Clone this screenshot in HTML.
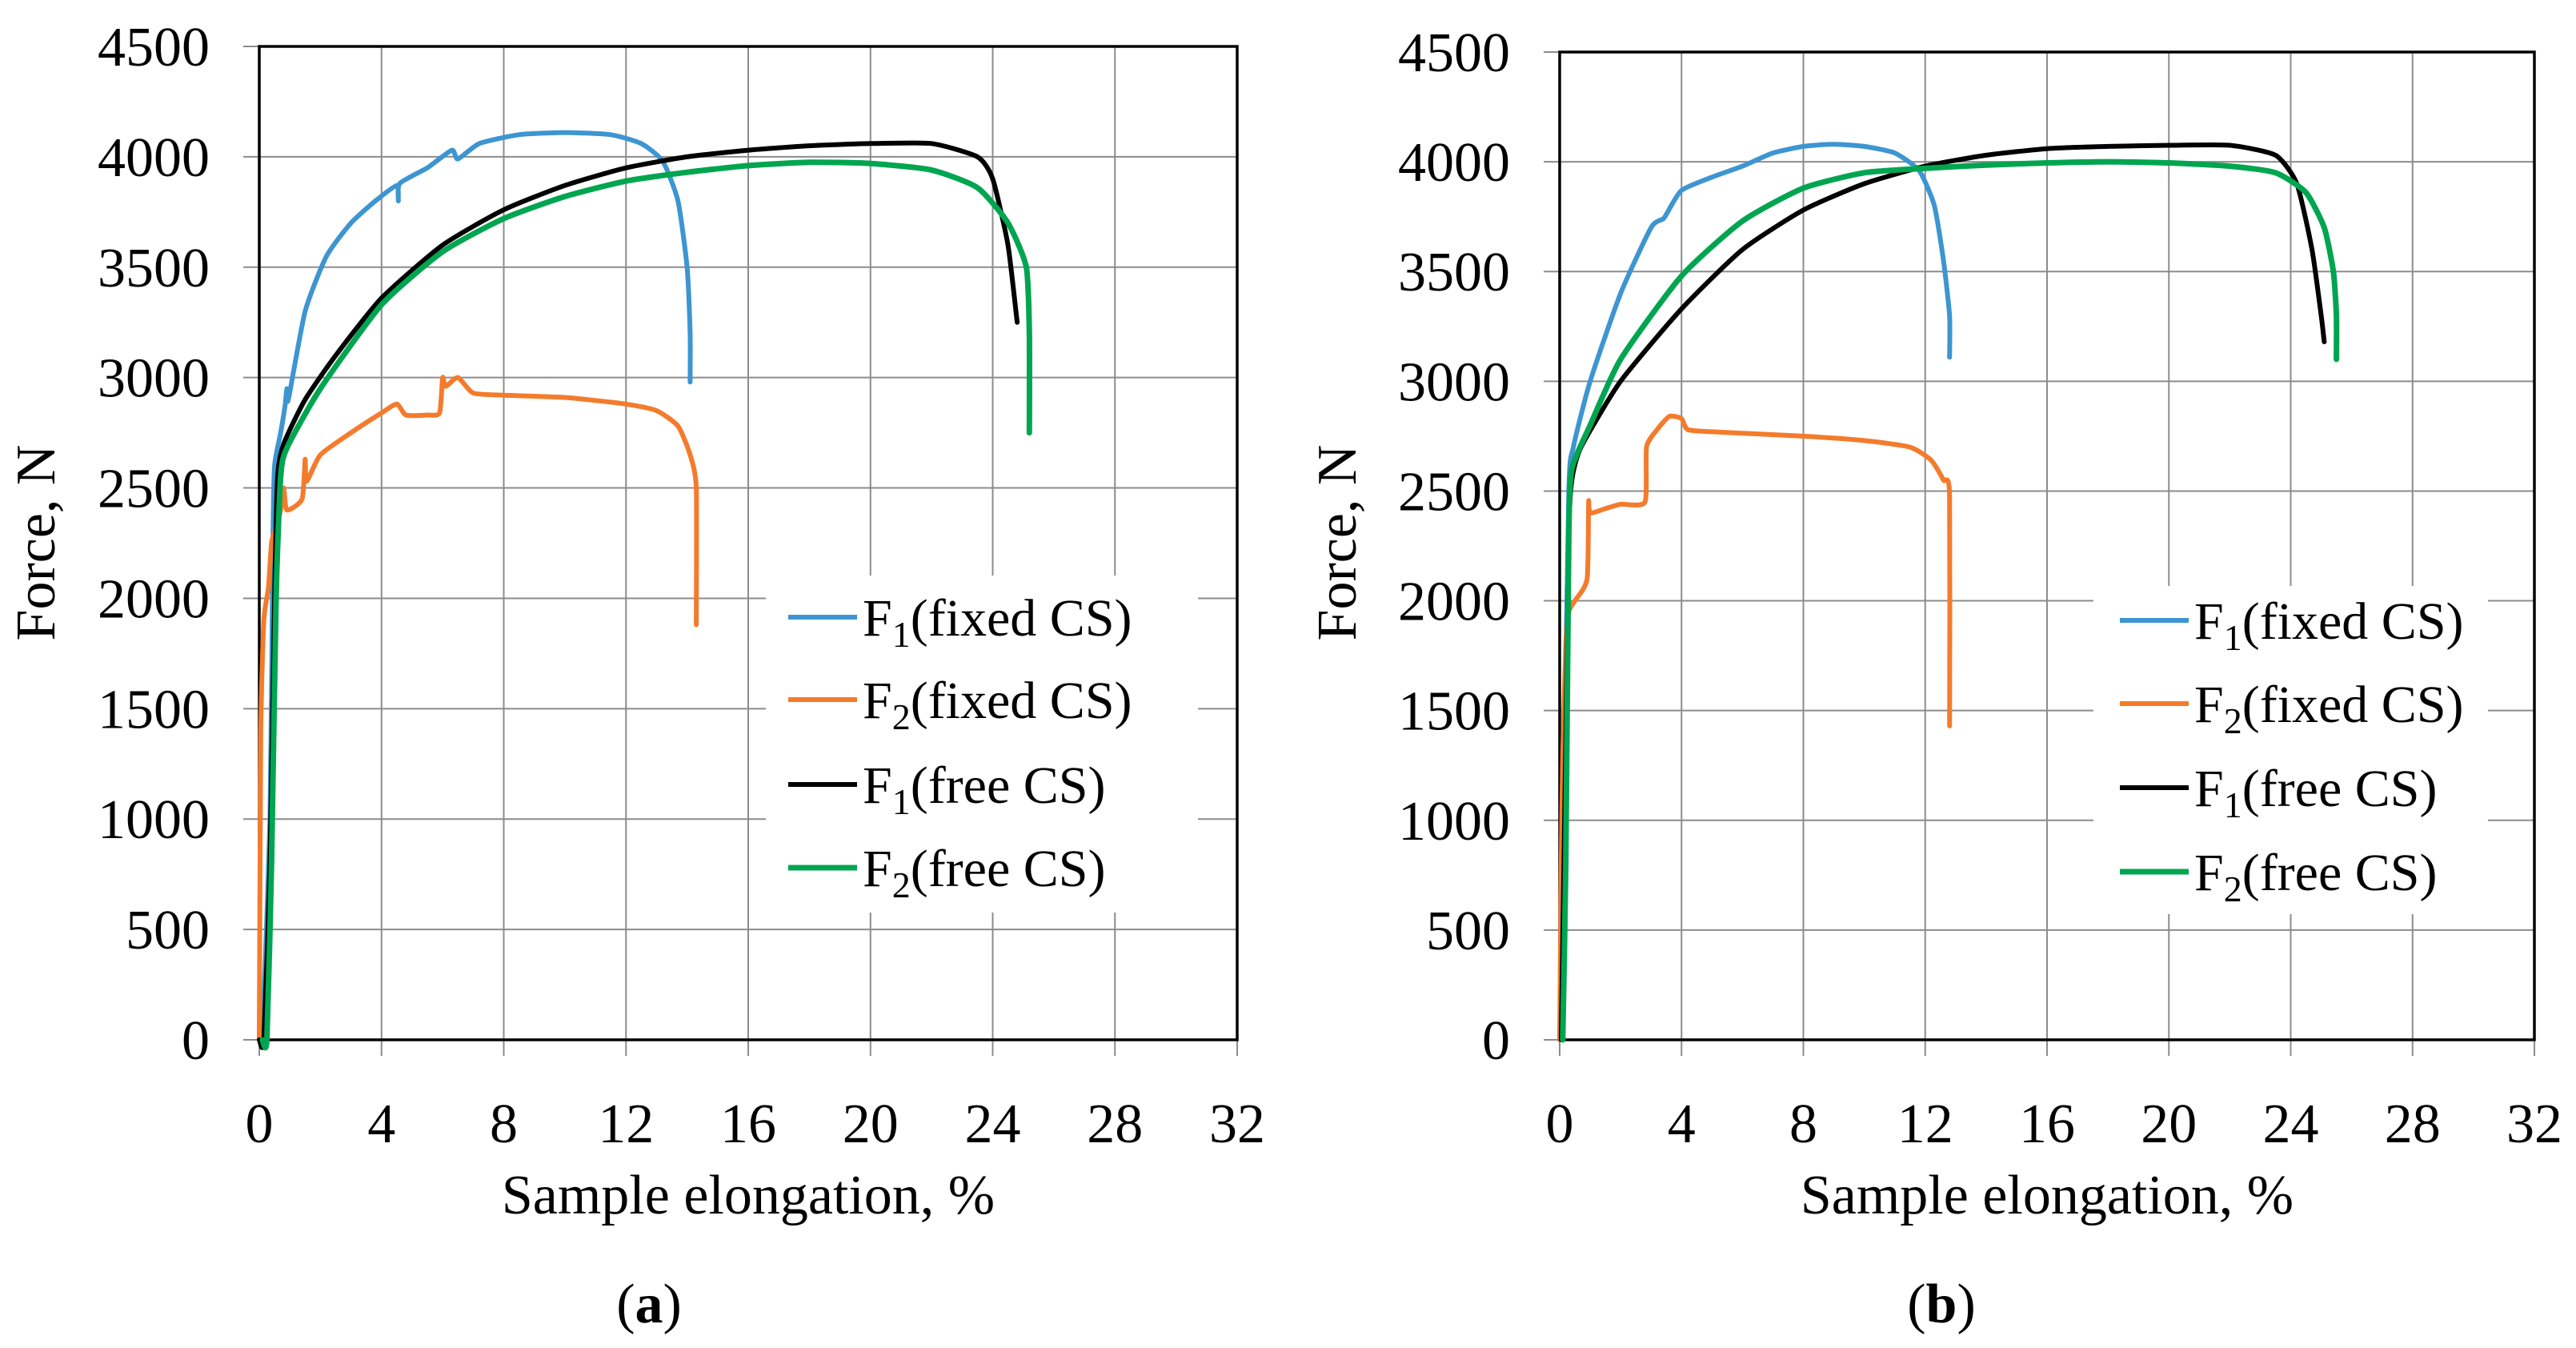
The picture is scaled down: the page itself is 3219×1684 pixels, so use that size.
<!DOCTYPE html>
<html><head><meta charset="utf-8">
<style>
html,body{margin:0;padding:0;background:#fff;}
svg{display:block;}
text{font-family:"Liberation Serif",serif;fill:#000;}
</style></head>
<body>
<svg id="fig" width="3219" height="1684" viewBox="0 0 3219 1684" xmlns="http://www.w3.org/2000/svg"></svg>
<script>
const xTicks = [0,4,8,12,16,20,24,28,32];
const yTicks = [0,500,1000,1500,2000,2500,3000,3500,4000,4500];
const seriesNames = ["F1(fixed CS)","F2(fixed CS)","F1(free CS)","F2(free CS)"];
// Panel (a)
const aF1fixedX = [0.1,0.35,0.45,0.5,0.7,0.85,0.9,0.95,1.5,2.2,3,3.8,4.5,4.55,4.6,5.5,6.3,6.5,7.2,8.5,10,11.5,12.5,13.2,13.7,14.0,14.1,14.1];
const aF1fixedY = [0,1000,2300,2600,2750,2880,2950,2900,3300,3550,3700,3800,3870,3800,3880,3950,4030,3990,4060,4100,4110,4100,4060,3980,3800,3500,3200,2980];
const aF2fixedX = [0,0.05,0.15,0.3,0.4,0.5,0.7,0.8,0.9,1.4,1.5,1.55,2,3,4,4.5,4.8,5.5,5.9,6.0,6.1,6.5,7,8,10,12,13,13.7,14.1,14.3,14.3];
const aF2fixedY = [0,1400,1900,2050,2250,2300,2400,2500,2400,2450,2630,2530,2650,2750,2840,2880,2830,2830,2840,3000,2960,3000,2930,2920,2910,2880,2850,2780,2650,2500,1880];
const aF1freeX = [0,0.15,0.35,0.5,0.6,0.8,1.5,2.5,4,6,8,10,12,14,16,18,20,22,23.5,24,24.5,24.8];
const aF1freeY = [0,0,800,2000,2550,2700,2900,3100,3360,3600,3760,3870,3950,4000,4030,4050,4060,4060,4000,3900,3600,3250];
const aF2freeX = [0.1,0.25,0.4,0.55,0.7,0.9,2,4,6,8,10,12,14,16,18,20,22,23.5,24.5,25.1,25.2,25.2];
const aF2freeY = [0,0,800,2000,2550,2680,2950,3330,3570,3720,3820,3890,3930,3960,3975,3970,3940,3860,3700,3500,3200,2750];
// Panel (b)
const bF1fixedX = [0,0.1,0.3,0.45,1,2,3,3.4,3.5,4,5,6,7,8,9,10,11,11.8,12.3,12.6,12.8,12.8];
const bF1fixedY = [0,800,2500,2700,3000,3400,3700,3740,3760,3870,3930,3980,4040,4070,4080,4070,4040,3960,3800,3550,3300,3110];
const bF2fixedX = [0,0.05,0.1,0.2,0.3,0.5,0.9,0.95,1.0,1.5,2,2.8,2.85,3.2,3.6,4,4.2,5,8,10,11.5,12.2,12.6,12.8,12.8];
const bF2fixedY = [0,800,1300,1800,1950,2000,2100,2450,2400,2420,2440,2450,2700,2780,2840,2830,2780,2770,2750,2730,2700,2640,2550,2480,1430];
const bF1freeX = [0.05,0.15,0.3,0.4,0.7,2,4,6,8,10,12,14,16,18,20,22,23.5,24.2,24.7,25.0,25.1];
const bF1freeY = [0,900,2300,2550,2700,3000,3330,3600,3780,3900,3980,4030,4060,4070,4075,4075,4030,3900,3600,3300,3180];
const bF2freeX = [0.1,0.2,0.3,0.4,1,2,4,6,8,10,12,14,16,18,20,22,23.5,24.5,25.1,25.4,25.5,25.5];
const bF2freeY = [0,800,2300,2600,2800,3100,3480,3730,3880,3950,3970,3985,3995,4000,3995,3980,3950,3860,3700,3500,3300,3100];

const NS = "http://www.w3.org/2000/svg";
const svg = document.getElementById("fig");
function mk(tag, attrs, parent){
  const e = document.createElementNS(NS, tag);
  for (const k in attrs) e.setAttribute(k, attrs[k]);
  (parent||svg).appendChild(e);
  return e;
}
const colors = ["#3d95d1","#f47b2c","#000000","#00a550"];
const widths = [6,6,6,7];

function smoothPath(pts){
  const k = 0.6/6;
  let d = "M" + pts[0][0].toFixed(1) + " " + pts[0][1].toFixed(1);
  for (let i=0;i<pts.length-1;i++){
    const p0 = pts[Math.max(0,i-1)], p1 = pts[i], p2 = pts[i+1], p3 = pts[Math.min(pts.length-1,i+2)];
    const c1x = p1[0] + (p2[0]-p0[0])*k, c1y = p1[1] + (p2[1]-p0[1])*k;
    const c2x = p2[0] - (p3[0]-p1[0])*k, c2y = p2[1] - (p3[1]-p1[1])*k;
    d += " C" + c1x.toFixed(1)+" "+c1y.toFixed(1)+" "+c2x.toFixed(1)+" "+c2y.toFixed(1)+" "+p2[0].toFixed(1)+" "+p2[1].toFixed(1);
  }
  return d;
}

function panel(cfg){
  const g = mk("g",{});
  
  
  const xs = v => cfg.L + v/32*(cfg.R-cfg.L);
  const ys = v => cfg.B - v/4500*(cfg.B-cfg.T);
  xTicks.forEach(t=>{
    const l = mk("line",{x1:xs(t),x2:xs(t),y1:cfg.T,y2:cfg.B+20,stroke:"#8c8c8c","stroke-width":2},g);
    
    
    const tx = mk("text",{x:xs(t),y:cfg.B+128,"font-size":70,"text-anchor":"middle"},g);
    tx.textContent = t;
    
    
  });
  yTicks.forEach(t=>{
    const l = mk("line",{x1:cfg.L-20,x2:cfg.R,y1:ys(t),y2:ys(t),stroke:"#8c8c8c","stroke-width":2},g);
    
    
    const tx = mk("text",{x:cfg.ylab,y:ys(t)+24,"font-size":70,"text-anchor":"end"},g);
    tx.textContent = t;
    
    
  });
  const lb = mk("rect",{x:cfg.lg.x0,y:cfg.lg.y0,width:cfg.lg.x1-cfg.lg.x0,height:cfg.lg.y1-cfg.lg.y0,fill:"#fff"},g);
  
  
  const fr = mk("rect",{x:cfg.L,y:cfg.T,width:cfg.R-cfg.L,height:cfg.B-cfg.T,fill:"none",stroke:"#000","stroke-width":3.5},g);
  
  
  cfg.series.forEach((s,i)=>{
    const pts = s[0].map((x,j)=>[xs(x), ys(s[1][j])]);
    const p = mk("path",{d:smoothPath(pts),fill:"none",stroke:colors[i],"stroke-width":widths[i],"stroke-linejoin":"round","stroke-linecap":"round"},g);
    
    
  });
  const subs = ["1","2","1","2"];
  const rest = ["(fixed CS)","(fixed CS)","(free CS)","(free CS)"];
  cfg.lg.rows.forEach((ry,i)=>{
    const e = mk("g",{},g);
    
    
    mk("line",{x1:cfg.lg.lx0,x2:cfg.lg.lx1,y1:ry,y2:ry,stroke:colors[i],"stroke-width":widths[i]},e);
    const t = mk("text",{x:cfg.lg.tx,y:ry+23,"font-size":66},e);
    const a = mk("tspan",{},t); a.textContent="F";
    const b = mk("tspan",{"font-size":46,dy:14}); t.appendChild(b); b.textContent=subs[i];
    const c = mk("tspan",{dy:-14}); t.appendChild(c); c.textContent=rest[i];
  });
  const xt = mk("text",{x:(cfg.L+cfg.R)/2,y:1516,"font-size":70,"text-anchor":"middle"},g);
  xt.textContent = "Sample elongation, %";
  
  
  const yt = mk("text",{x:0,y:0,"font-size":70,"text-anchor":"middle",transform:`translate(${cfg.ytx},678) rotate(-90)`},g);
  yt.textContent = "Force, N";
  
  
  const cap = mk("text",{x:cfg.capx,y:1652,"font-size":70,"text-anchor":"middle"},g);
  const c1 = mk("tspan",{}); cap.appendChild(c1); c1.textContent="(";
  const c2 = mk("tspan",{"font-weight":"bold"}); cap.appendChild(c2); c2.textContent=cfg.id;
  const c3 = mk("tspan",{}); cap.appendChild(c3); c3.textContent=")";
  
  
}

panel({id:"a",L:324,R:1546,T:58,B:1299,ylab:262,ytx:68,capx:811,
  lg:{x0:957,x1:1497,y0:719,y1:1140,lx0:985,lx1:1071,tx:1078,rows:[771,874,980,1084]},
  series:[[aF1fixedX,aF1fixedY],[aF2fixedX,aF2fixedY],[aF1freeX,aF1freeY],[aF2freeX,aF2freeY]]});
panel({id:"b",L:1949,R:3167,T:65,B:1299,ylab:1887,ytx:1694,capx:2426,
  lg:{x0:2616,x1:3109,y0:732,y1:1142,lx0:2649,lx1:2735,tx:2742,rows:[775,879,984,1089]},
  series:[[bF1fixedX,bF1fixedY],[bF2fixedX,bF2fixedY],[bF1freeX,bF1freeY],[bF2freeX,bF2freeY]]});
</script>
</body></html>
